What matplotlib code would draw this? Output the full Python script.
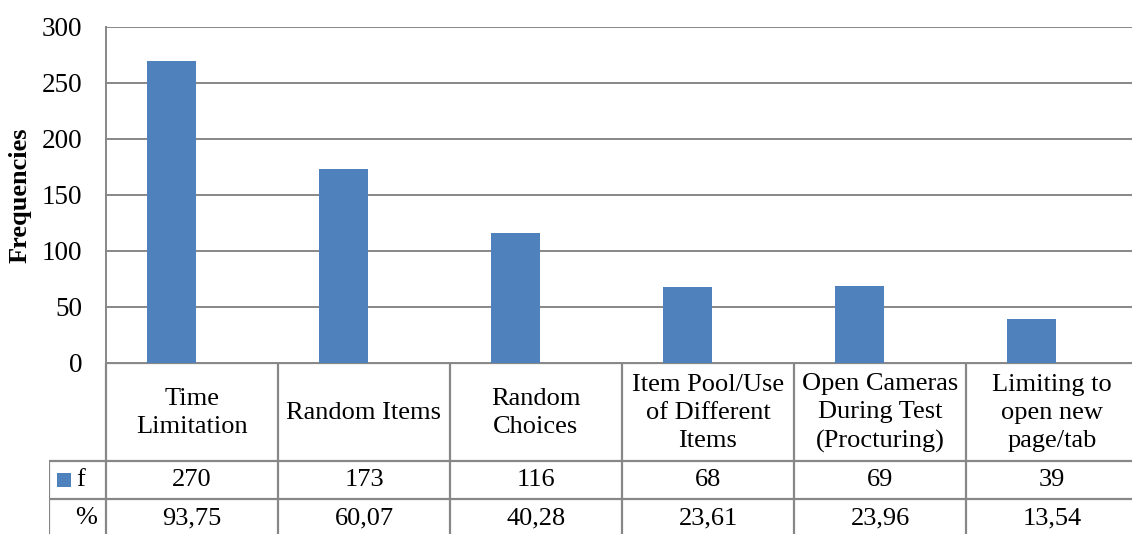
import matplotlib.pyplot as plt

categories = ["Time\nLimitation", "Random Items", "Random\nChoices",
              "Item Pool/Use\nof Different\nItems", "Open Cameras\nDuring Test\n(Procturing)",
              "Limiting to\nopen new\npage/tab"]
freq = [270, 173, 116, 68, 69, 39]
pct = ["93,75", "60,07", "40,28", "23,61", "23,96", "13,54"]
yticks = [0, 50, 100, 150, 200, 250, 300]

BLUE = "#4F81BD"
GRID = "#878787"
FS = 19

plt.rcParams["font.family"] = ["Liberation Serif", "DejaVu Serif"]

W, H = 1132, 534
fig = plt.figure(figsize=(W / 100, H / 100), dpi=100)

# pixel layout
x0, x1 = 106, 1138          # plot area left / right (right edge is cut off)
y_top, y_base = 27, 363      # y=300 and y=0
lab_left = 49                # left edge of the row-label column
row_f, row_p, row_end = 461, 499, 537
colw = (x1 - x0) / len(categories)

ax = fig.add_axes([x0 / W, 1 - y_base / H, (x1 - x0) / W, (y_base - y_top) / H])
n = len(categories)
xs = [i + 0.5 - 0.122 for i in range(n)]
ax.bar(xs, freq, width=0.285, color=BLUE, zorder=3)
ax.set_xlim(0, n)
ax.set_ylim(0, 300)
ax.set_yticks(yticks)
ax.set_yticklabels([str(v) for v in yticks], fontsize=FS + 0.5)
ax.tick_params(axis="y", length=0, pad=17)
ax.set_xticks([])
ax.yaxis.grid(True, color=GRID, lw=1.4, zorder=0)
for s in ["top", "right", "bottom"]:
    ax.spines[s].set_visible(False)
ax.spines["left"].set_color(GRID)
ax.spines["left"].set_linewidth(1.4)
ax.set_ylabel("Frequencies", fontsize=FS, fontweight="bold")
ax.yaxis.set_label_coords(-0.072, 0.5)

# data table below the plot
lab_w = (x0 - lab_left) / colw
tax = fig.add_axes([lab_left / W, 1 - row_end / H, (x1 - lab_left) / W, (row_end - y_base) / H])
tax.set_xlim(-lab_w, n)
tax.set_ylim(row_end, y_base)
tax.axis("off")
lk = dict(color=GRID, lw=1.6, solid_capstyle="butt")
tax.plot([0, n], [y_base, y_base], **lk)
tax.plot([-lab_w, n], [row_f, row_f], **lk)
tax.plot([-lab_w, n], [row_p, row_p], **lk)
tax.plot([-lab_w, -lab_w], [row_f, row_end], **lk)
for i in range(n + 1):
    tax.plot([i, i], [y_base, row_end], **lk)

for i, (c, f, p) in enumerate(zip(categories, freq, pct)):
    tax.text(i + 0.5, (y_base + row_f) / 2 + 1, c, ha="center", va="center",
             fontsize=FS, linespacing=1.36)
    tax.text(i + 0.5, (row_f + row_p) / 2, str(f), ha="center", va="center", fontsize=FS)
    tax.text(i + 0.5, (row_p + row_end) / 2, p, ha="center", va="center", fontsize=FS)

sq = 14 / colw
tax.bar([-lab_w + 8 / colw + sq / 2], [14], bottom=[(row_f + row_p) / 2 - 7],
        width=sq, color=BLUE)
tax.text(-lab_w + 27 / colw, (row_f + row_p) / 2, "f", ha="left", va="center", fontsize=FS)
tax.text(-9 / colw, (row_p + row_end) / 2, "%", ha="right", va="center", fontsize=FS)

fig.savefig("out.png", dpi=100)
